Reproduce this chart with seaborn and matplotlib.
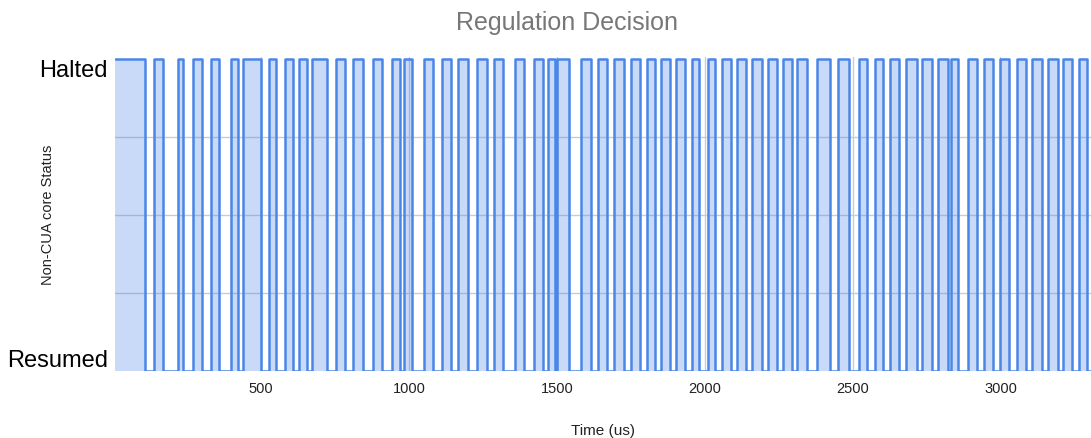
import numpy as np
import pandas as pd
import matplotlib
matplotlib.use("Agg")
import matplotlib.pyplot as plt
import seaborn as sns

# halted intervals (us): start / end of each "Halted" pulse
halt_start = [6, 138, 219, 270, 331, 399, 439, 527, 581, 628, 673, 754, 811,
              879, 943, 984, 1051, 1112, 1167, 1231, 1288, 1359, 1424, 1471,
              1502, 1580, 1640, 1694, 1751, 1806, 1853, 1904, 1958, 2010, 2059,
              2110, 2161, 2215, 2266, 2313, 2378, 2449, 2520, 2574, 2628, 2682,
              2736, 2787, 2831, 2889, 2943, 2999, 3057, 3108, 3159, 3213, 3264]
halt_end = [108, 168, 236, 300, 358, 422, 500, 551, 608, 656, 723, 784, 845,
            909, 970, 1010, 1082, 1143, 1200, 1264, 1319, 1390, 1454, 1495,
            1542, 1614, 1671, 1728, 1782, 1833, 1884, 1934, 1982, 2036, 2090,
            2141, 2192, 2246, 2296, 2347, 2425, 2489, 2550, 2604, 2658, 2716,
            2767, 2821, 2858, 2922, 2976, 3030, 3087, 3142, 3193, 3243, 3294]
t_end = 3306
y_labels = ["Resumed", "Halted"]
x_ticks = [500, 1000, 1500, 2000, 2500, 3000]

# build step series
t, s = [], []
for a, b in zip(halt_start, halt_end):
    t += [a, b]
    s += [1, 0]
t.append(t_end)
s.append(0)
df = pd.DataFrame({"time": t, "status": s})

sns.set_style("white")
plt.rcParams["font.family"] = ["Liberation Sans", "DejaVu Sans"]

fig = plt.figure(figsize=(10.91, 4.39), dpi=100)
ax = fig.add_axes([0.1054, 0.1526, 0.8946, 0.7154])

blue = "#4a86e8"
for g in [0.25, 0.5, 0.75]:
    ax.axhline(g, color="#cccccc", lw=1, zorder=0)
for v in x_ticks:
    ax.axvline(v, color="#cccccc", lw=1, zorder=0)

ax.fill_between(df["time"], df["status"], step="post", color=blue,
                alpha=0.3, lw=0, zorder=1)
sns.lineplot(data=df, x="time", y="status", drawstyle="steps-post",
             estimator=None, sort=False, color=blue, lw=1.8, ax=ax, zorder=2)

ax.set_xlim(halt_start[0], t_end)
ax.set_ylim(0, 1.008)
ax.set_xticks(x_ticks)
ax.set_xticklabels([str(v) for v in x_ticks], fontsize=10.5, color="#222222")
ax.set_yticks([0, 1])
ax.set_yticklabels(y_labels, fontsize=17, color="black")
ax.get_yticklabels()[0].set_va("bottom")
ax.get_yticklabels()[1].set_va("top")
ax.tick_params(axis="both", length=0)
ax.tick_params(axis="x", pad=7)
ax.tick_params(axis="y", pad=5)
for sp in ax.spines.values():
    sp.set_visible(False)

fig.text(0.52, 0.948, "Regulation Decision", fontsize=18, color="#777777",
         ha="center", va="center")
ax.set_xlabel("Time (us)", fontsize=11, color="#222222")
ax.xaxis.set_label_coords(0.5, -0.165)
ax.set_ylabel("Non-CUA core Status", fontsize=10.5, color="#222222")
ax.yaxis.set_label_coords(-0.061, 0.5)

fig.savefig("out.png", dpi=100)
